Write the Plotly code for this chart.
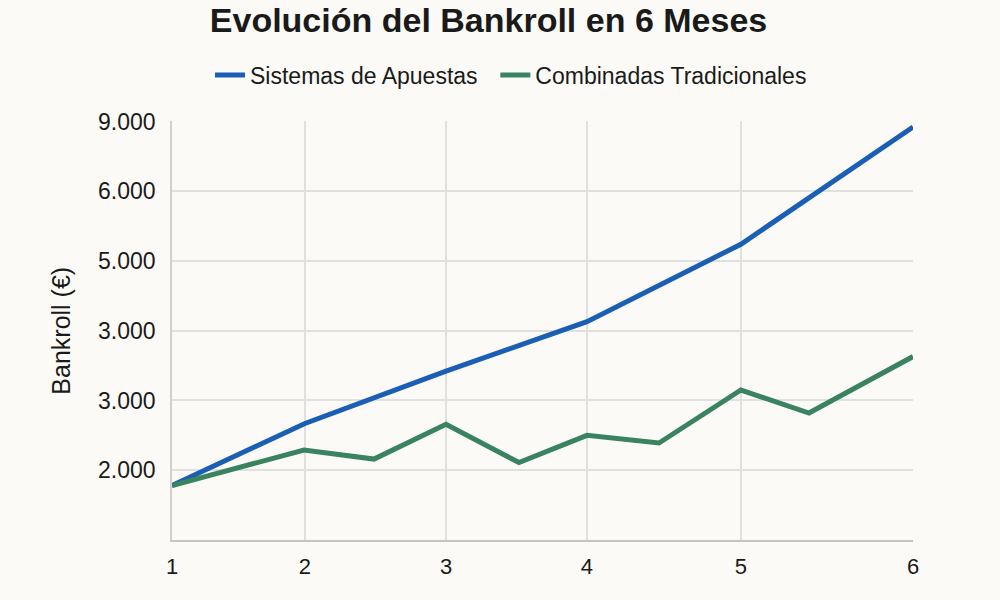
import plotly.graph_objects as go

# Axis tick labels as printed on the chart (bottom to top)
y_tick_labels = ['2.000', '3.000', '3.000', '5.000', '6.000', '9.000']
y_tick_levels = [0, 1, 2, 3, 4, 5]

month_labels = ['1', '2', '3', '4', '5', '6']
month_pos = [1.0, 1.897, 2.849, 3.80, 4.839, 6.0]

# Sistemas de Apuestas (one point per month)
sistemas_x = month_pos
sistemas_y = [-0.22, 0.67, 1.42, 2.13, 3.24, 4.92]

# Combinadas Tradicionales (points at months and mid-months)
combinadas_x = [1.0, 1.89, 2.363, 2.849, 3.341, 3.80, 4.286, 4.839, 5.298, 6.0]
combinadas_y = [-0.22, 0.29, 0.16, 0.66, 0.11, 0.50, 0.39, 1.15, 0.82, 1.63]

BLUE = '#1b5fb5'
GREEN = '#3a835f'
BG = '#fbfaf6'
GRID = '#e0e0e0'
TEXT = '#1a1a1a'
FONT = 'Liberation Sans, Arial, sans-serif'

fig = go.Figure()
fig.add_trace(go.Scatter(
  x=sistemas_x, y=sistemas_y, mode='lines',
  name='Sistemas de Apuestas\u00a0\u00a0',  # trailing spaces widen the legend gap
  line=dict(color=BLUE, width=5),
))
fig.add_trace(go.Scatter(
  x=combinadas_x, y=combinadas_y, mode='lines', name='Combinadas Tradicionales',
  line=dict(color=GREEN, width=5),
))

fig.update_layout(
  width=1000, height=600,
  paper_bgcolor=BG, plot_bgcolor=BG,
  margin=dict(l=172, r=87, t=117, b=60),
  font=dict(family=FONT, color=TEXT, size=22),
  title=dict(
    text='<b>Evolución del Bankroll en 6 Meses</b>',
    x=0.4885, xanchor='center', y=0.966, yanchor='middle',
    font=dict(size=34, family=FONT, color=TEXT),
  ),
  legend=dict(
    orientation='h', xref='container', x=0.511, xanchor='center',
    yref='container', y=0.875, yanchor='middle',
    font=dict(size=23), bgcolor='rgba(0,0,0,0)', itemwidth=30,
  ),
  xaxis=dict(
    range=[1, 6], tickvals=month_pos, ticktext=month_labels,
    showgrid=True, gridcolor=GRID, gridwidth=1.5, zeroline=False,
    showline=True, linecolor='#c4c4c4', linewidth=2,
    ticks='', tickfont=dict(size=22), ticklabelstandoff=6,
  ),
  yaxis=dict(
    range=[-1, 5], tickvals=y_tick_levels, ticktext=y_tick_labels,
    showgrid=True, gridcolor=GRID, gridwidth=1.5, zeroline=False,
    showline=True, linecolor='#d0d0d0', linewidth=1.5,
    ticks='', tickfont=dict(size=23), ticklabelstandoff=10,
    title=dict(text='Bankroll (€)', font=dict(size=25), standoff=20),
  ),
)

# drop the default page margin so the figure sits at the window corner
fig.write_html('out.html', config={'displayModeBar': False},
               post_script="document.body.style.margin='0';")
